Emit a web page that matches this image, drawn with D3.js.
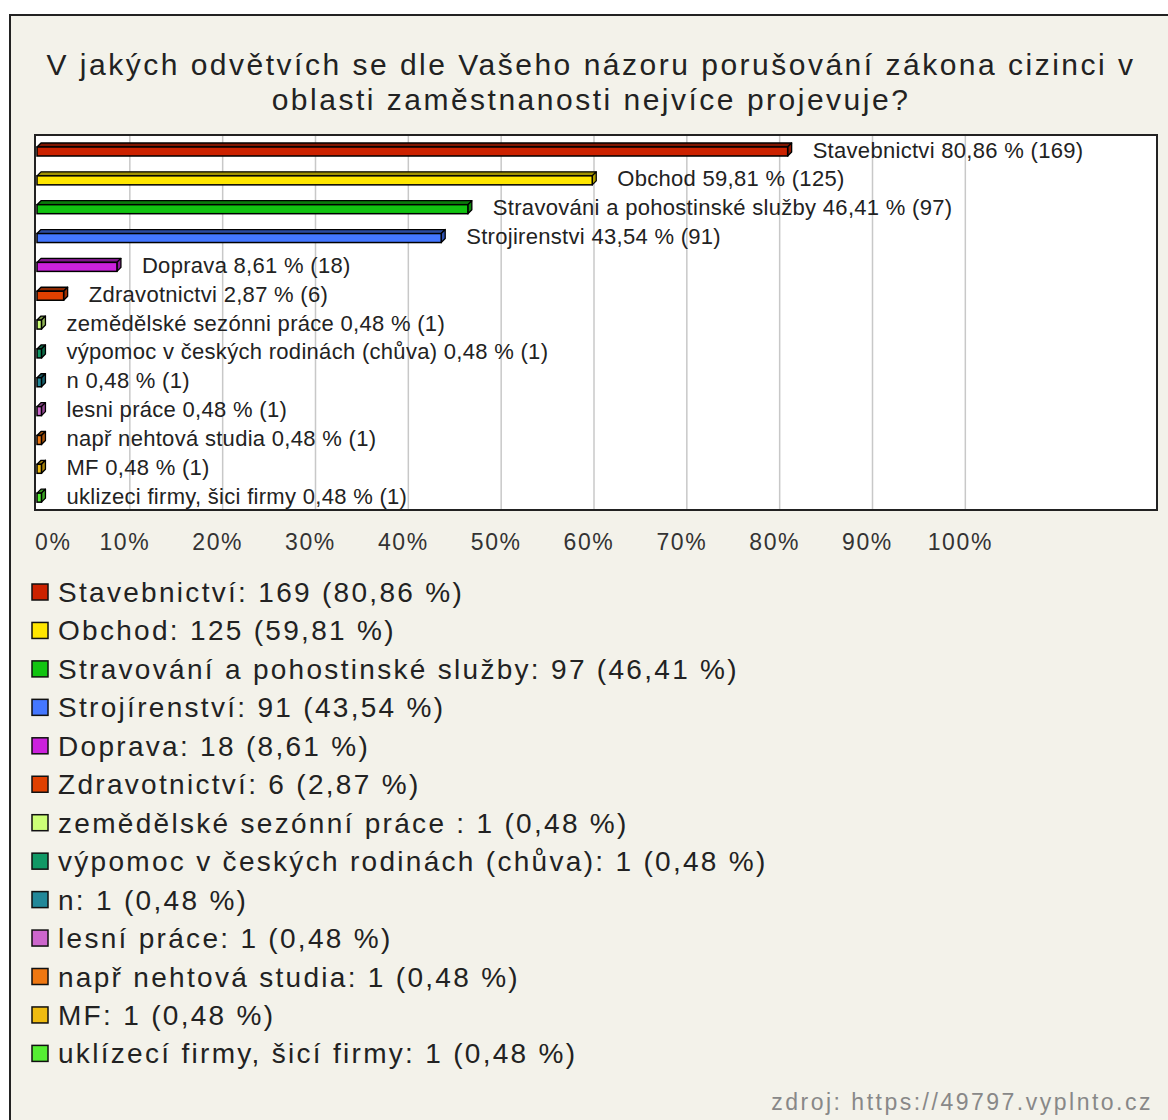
<!DOCTYPE html>
<html>
<head>
<meta charset="utf-8">
<script src="https://cdn.jsdelivr.net/npm/d3@7"></script>
<style>
  body { margin: 0; background: #fff; }
  svg { display: block; font-family: "Liberation Sans", Arial, sans-serif; }
</style>
</head>
<body>
<svg id="chart"></svg>
<script>
// Chart data
const barLabels = [
  "Stavebnictvi", "Obchod", "Stravováni a pohostinské služby", "Strojirenstvi",
  "Doprava", "Zdravotnictvi", "zemědělské sezónni práce ", "výpomoc v českých rodinách (chůva)",
  "n", "lesni práce", "např nehtová studia", "MF", "uklizeci firmy, šici firmy"
];
const legendLabels = [
  "Stavebnictví", "Obchod", "Stravování a pohostinské služby", "Strojírenství",
  "Doprava", "Zdravotnictví", "zemědělské sezónní práce ", "výpomoc v českých rodinách (chůva)",
  "n", "lesní práce", "např nehtová studia", "MF", "uklízecí firmy, šicí firmy"
];
const counts = [169, 125, 97, 91, 18, 6, 1, 1, 1, 1, 1, 1, 1];
const percents = [80.86, 59.81, 46.41, 43.54, 8.61, 2.87, 0.48, 0.48, 0.48, 0.48, 0.48, 0.48, 0.48];
const colors = [
  "#cc2200", "#ffe600", "#11c411", "#4477ff", "#cc22dd", "#e04000", "#ccff77",
  "#119966", "#228899", "#cc66cc", "#ee7711", "#eebb11", "#55ee33"
];
const tickValues = [0, 10, 20, 30, 40, 50, 60, 70, 80, 90, 100];
const titleLines = [
  "V jakých odvětvích se dle Vašeho názoru porušování zákona cizinci v",
  "oblasti zaměstnanosti nejvíce projevuje?"
];
const sourceText = "zdroj: https://49797.vyplnto.cz";

const fmt = v => String(v).replace(".", ",");

// Dimensions
const width = 1168;
const height = 1120;
const plot = { left: 35, top: 135, right: 1157, bottom: 510 };
const depth = 4;

const svg = d3.select("#chart")
  .attr("width", width)
  .attr("height", height);

// Outer frame
svg.append("rect")
  .attr("x", 10).attr("y", 15)
  .attr("width", 1200).attr("height", 1200)
  .attr("fill", "#f3f2ea")
  .attr("stroke", "#222")
  .attr("stroke-width", 2);

// Title
svg.append("g")
  .selectAll("text")
  .data(titleLines)
  .enter()
  .append("text")
  .attr("x", 591)
  .attr("y", (d, i) => 75 + i * 35)
  .attr("text-anchor", "middle")
  .attr("font-size", 30)
  .attr("letter-spacing", 2.5)
  .attr("fill", "#222")
  .text(d => d);

// Scales
const xScale = d3.scaleLinear()
  .domain([0, 120])
  .range([37, 1151]);

const yScale = d3.scaleBand()
  .domain(d3.range(barLabels.length))
  .range([plot.top, plot.bottom]);

// Plot background
svg.append("rect")
  .attr("x", plot.left).attr("y", plot.top)
  .attr("width", plot.right - plot.left)
  .attr("height", plot.bottom - plot.top)
  .attr("fill", "#fff");

// Grid lines
svg.append("g")
  .selectAll("line")
  .data(tickValues.filter(v => v > 0))
  .enter()
  .append("line")
  .attr("x1", d => xScale(d)).attr("x2", d => xScale(d))
  .attr("y1", plot.top).attr("y2", plot.bottom)
  .attr("stroke", "#c8c8c8")
  .attr("stroke-width", 1.5);

// Bars (pseudo 3D)
const bars = svg.append("g")
  .selectAll("g")
  .data(percents)
  .enter()
  .append("g");

const x0 = xScale(0);
const frontTop = i => yScale(i) + 12;
const frontH = 9;

bars.append("path") // top face
  .attr("d", (d, i) => {
    const x1 = xScale(d), y = frontTop(i);
    return `M${x0},${y}L${x0 + depth},${y - depth}L${x1 + depth},${y - depth}L${x1},${y}Z`;
  })
  .attr("fill", (d, i) => d3.color(colors[i]).darker(1.3))
  .attr("stroke", "#000")
  .attr("stroke-width", 1.3)
  .attr("stroke-linejoin", "round");

bars.append("path") // side face
  .attr("d", (d, i) => {
    const x1 = xScale(d), y = frontTop(i);
    return `M${x1},${y}L${x1 + depth},${y - depth}L${x1 + depth},${y + frontH - depth}L${x1},${y + frontH}Z`;
  })
  .attr("fill", (d, i) => d3.color(colors[i]).darker(1))
  .attr("stroke", "#000")
  .attr("stroke-width", 1.3)
  .attr("stroke-linejoin", "round");

bars.append("rect") // front face
  .attr("x", x0)
  .attr("y", (d, i) => frontTop(i))
  .attr("width", d => xScale(d) - x0)
  .attr("height", frontH)
  .attr("fill", (d, i) => colors[i])
  .attr("stroke", "#000")
  .attr("stroke-width", 1.5);

// Value labels
bars.append("text")
  .attr("x", d => xScale(d) + 25)
  .attr("y", (d, i) => yScale(i) + 22.5)
  .attr("font-size", 22)
  .attr("letter-spacing", 0.3)
  .attr("fill", "#222")
  .text((d, i) => `${barLabels[i]} ${fmt(d)} % (${counts[i]})`);

// Plot border
svg.append("rect")
  .attr("x", plot.left).attr("y", plot.top)
  .attr("width", plot.right - plot.left)
  .attr("height", plot.bottom - plot.top)
  .attr("fill", "none")
  .attr("stroke", "#222")
  .attr("stroke-width", 2);

// X tick labels
svg.append("g")
  .selectAll("text")
  .data(tickValues)
  .enter()
  .append("text")
  .attr("x", d => d === 0 ? plot.left : xScale(d) - 5)
  .attr("y", 550)
  .attr("text-anchor", d => d === 0 ? "start" : "middle")
  .attr("font-size", 23)
  .attr("letter-spacing", 1.6)
  .attr("fill", "#333")
  .text(d => `${d}%`);

// Legend
const legend = svg.append("g")
  .selectAll("g")
  .data(legendLabels)
  .enter()
  .append("g")
  .attr("transform", (d, i) => `translate(0, ${584 + i * 38.45})`);

legend.append("rect")
  .attr("x", 32).attr("y", 0)
  .attr("width", 16).attr("height", 16)
  .attr("fill", (d, i) => colors[i])
  .attr("stroke", "#111")
  .attr("stroke-width", 1.5);

legend.append("text")
  .attr("x", 58)
  .attr("y", 18)
  .attr("font-size", 28)
  .attr("letter-spacing", 2.3)
  .attr("fill", "#222")
  .text((d, i) => `${d}: ${counts[i]} (${fmt(percents[i])} %)`);

// Source
svg.append("text")
  .attr("x", 1153)
  .attr("y", 1110)
  .attr("text-anchor", "end")
  .attr("font-size", 23)
  .attr("letter-spacing", 2.5)
  .attr("fill", "#888")
  .text(sourceText);
</script>
</body>
</html>
